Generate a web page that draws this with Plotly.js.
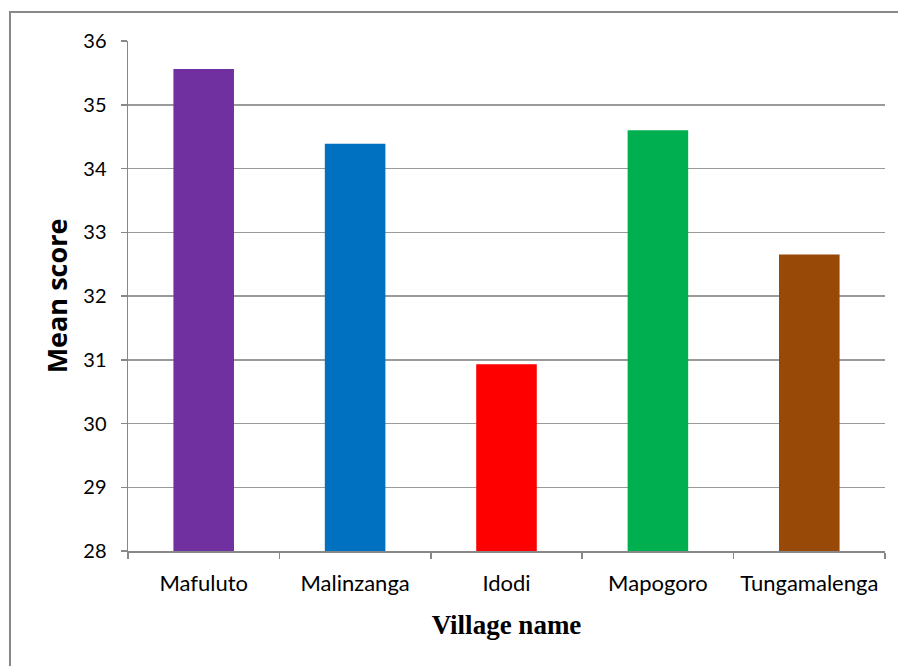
<!DOCTYPE html>
<html>
<head>
<meta charset="utf-8">
<script src="https://cdn.plot.ly/plotly-3.0.1.min.js"></script>
<style>html,body{margin:0;padding:0;background:#fff;}#chart{width:898px;height:666px;}</style>
</head>
<body>
<div id="chart"></div>
<script>
const villages = ["Mafuluto", "Malinzanga", "Idodi", "Mapogoro", "Tungamalenga"];
const meanScores = [35.56, 34.39, 30.93, 34.60, 32.65];
const barColors = ["#7030A0", "#0070C0", "#FF0000", "#00B050", "#984807"];
const yTicks = [28, 29, 30, 31, 32, 33, 34, 35, 36];

const trace = {
  type: "bar",
  x: villages,
  y: meanScores,
  marker: {color: barColors, line: {width: 0}},
  hoverinfo: "x+y"
};

const layout = {
  width: 898,
  height: 666,
  margin: {l: 128, r: 13, t: 41, b: 115},
  paper_bgcolor: "#ffffff",
  plot_bgcolor: "#ffffff",
  showlegend: false,
  bargap: 0.6,
  font: {family: "Lato, 'Open Sans', sans-serif", color: "#000"},
  xaxis: {
    type: "category",
    tickson: "boundaries",
    ticks: "outside",
    ticklen: 6,
    tickcolor: "#888888",
    tickwidth: 1.5,
    showline: true,
    linecolor: "#888888",
    linewidth: 1.5,
    showgrid: false,
    ticklabelstandoff: 12,
    tickfont: {family: "Lato, 'Open Sans', sans-serif", size: 22, color: "#000"},
    title: {text: "Village name", font: {family: "'Liberation Serif', 'Times New Roman', serif", size: 27, color: "#000", weight: "bold"}, standoff: 20}
  },
  yaxis: {
    range: [28, 36],
    tickvals: yTicks,
    ticktext: yTicks.map(String),
    ticks: "outside",
    ticklen: 6,
    tickcolor: "#888888",
    tickwidth: 1.5,
    showline: true,
    linecolor: "#888888",
    linewidth: 1.5,
    showgrid: true,
    gridcolor: "#9a9a9a",
    gridwidth: 1.5,
    zeroline: false,
    ticklabelstandoff: 10,
    tickfont: {family: "Lato, 'Open Sans', sans-serif", size: 20, color: "#000"},
    title: {text: "Mean score", font: {family: "'Open Sans', 'DejaVu Sans', sans-serif", size: 27, color: "#000", weight: "bold"}, standoff: 8}
  },
  shapes: [{
    type: "rect",
    xref: "paper", yref: "paper",
    x0: -0.1559, x1: 1.05, y0: -0.4, y1: 1.0569,
    line: {color: "#888888", width: 2},
    fillcolor: "rgba(0,0,0,0)",
    layer: "below"
  }]
};

Plotly.newPlot("chart", [trace], layout, {displayModeBar: false, staticPlot: true});
</script>
</body>
</html>
